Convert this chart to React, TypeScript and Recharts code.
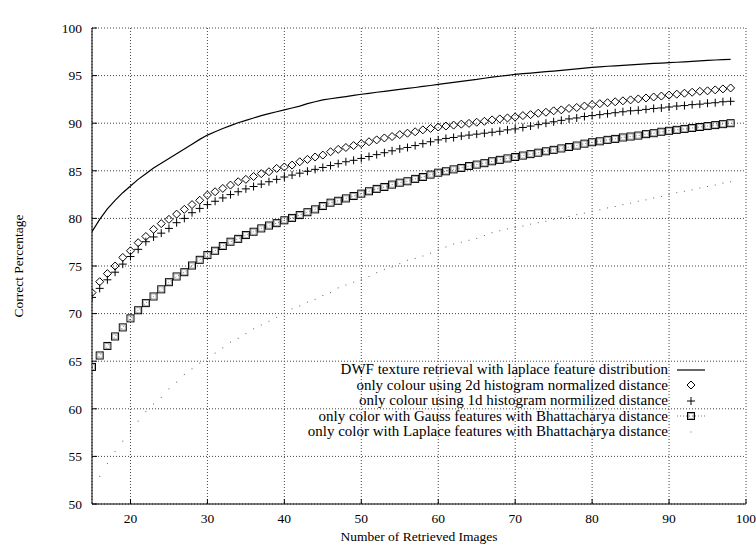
import { LineChart, Line, XAxis, YAxis, CartesianGrid, Legend } from "recharts";

const images = [
  15, 16, 17, 18, 19, 20, 21, 22, 23, 24, 25, 26, 27, 28, 29, 30, 31, 32, 33, 34,
  35, 36, 37, 38, 39, 40, 41, 42, 43, 44, 45, 46, 47, 48, 49, 50, 51, 52, 53, 54,
  55, 56, 57, 58, 59, 60, 61, 62, 63, 64, 65, 66, 67, 68, 69, 70, 71, 72, 73, 74,
  75, 76, 77, 78, 79, 80, 81, 82, 83, 84, 85, 86, 87, 88, 89, 90, 91, 92, 93, 94,
  95, 96, 97, 98,
];

const dwf = [
  78.6, 79.9, 81.0, 81.9, 82.7, 83.4, 84.1, 84.7, 85.3, 85.8,
  86.3, 86.8, 87.3, 87.8, 88.3, 88.75, 89.1, 89.45, 89.75, 90.05,
  90.3, 90.55, 90.8, 91.0, 91.2, 91.4, 91.6, 91.8, 92.05, 92.25,
  92.45, 92.57, 92.69, 92.8, 92.92, 93.04, 93.14, 93.25, 93.35, 93.45,
  93.55, 93.65, 93.75, 93.86, 93.96, 94.07, 94.18, 94.29, 94.4, 94.5,
  94.6, 94.72, 94.83, 94.93, 95.03, 95.12, 95.2, 95.27, 95.34, 95.41,
  95.48, 95.55, 95.62, 95.7, 95.78, 95.86, 95.92, 95.98, 96.03, 96.08,
  96.13, 96.18, 96.23, 96.28, 96.32, 96.36, 96.4, 96.45, 96.5, 96.55,
  96.6, 96.64, 96.68, 96.7,
];

const hist2d = [
  72.2, 73.35, 74.2, 75.0, 75.9, 76.6, 77.45, 78.1, 78.85, 79.45,
  79.9, 80.45, 80.95, 81.45, 81.9, 82.45, 82.8, 83.15, 83.5, 83.85,
  84.1, 84.4, 84.7, 84.9, 85.25, 85.4, 85.6, 85.95, 86.2, 86.45,
  86.65, 87.0, 87.25, 87.45, 87.65, 87.85, 88.05, 88.25, 88.45, 88.6,
  88.8, 88.95, 89.1, 89.3, 89.45, 89.6, 89.7, 89.8, 89.9, 89.98,
  90.1, 90.2, 90.35, 90.45, 90.55, 90.65, 90.8, 90.9, 91.05, 91.15,
  91.3, 91.4, 91.55, 91.65, 91.8, 91.95, 92.05, 92.15, 92.25, 92.35,
  92.45, 92.55, 92.65, 92.75, 92.85, 92.95, 93.05, 93.15, 93.25, 93.35,
  93.4, 93.5, 93.6, 93.7,
];

const hist1d = [
  71.7, 72.65, 73.55, 74.35, 75.2, 76.0, 76.75, 77.55, 78.05, 78.45,
  78.95, 79.55, 80.0, 80.6, 81.05, 81.45, 81.8, 82.15, 82.5, 82.8,
  83.1, 83.35, 83.6, 83.85, 84.1, 84.35, 84.55, 84.75, 84.95, 85.15,
  85.35, 85.55, 85.75, 85.95, 86.1, 86.3, 86.5, 86.7, 86.9, 87.1,
  87.3, 87.45, 87.65, 87.85, 88.05, 88.25, 88.4, 88.5, 88.65, 88.75,
  88.85, 88.95, 89.05, 89.15, 89.3, 89.4, 89.55, 89.7, 89.85, 90.0,
  90.15, 90.3, 90.45, 90.55, 90.7, 90.8, 90.9, 91.0, 91.1, 91.2,
  91.3, 91.35, 91.45, 91.55, 91.6, 91.7, 91.8, 91.85, 91.95, 92.0,
  92.1, 92.15, 92.25, 92.3,
];

const gauss = [
  64.4, 65.6, 66.6, 67.6, 68.55, 69.5, 70.35, 71.1, 71.8, 72.55,
  73.3, 73.9, 74.35, 75.05, 75.65, 76.15, 76.6, 77.1, 77.55, 77.85,
  78.25, 78.6, 78.95, 79.25, 79.5, 79.8, 80.05, 80.35, 80.65, 80.95,
  81.3, 81.65, 81.85, 82.1, 82.35, 82.6, 82.85, 83.1, 83.3, 83.55,
  83.75, 83.9, 84.15, 84.35, 84.6, 84.8, 84.95, 85.15, 85.3, 85.5,
  85.65, 85.8, 86.0, 86.15, 86.3, 86.45, 86.6, 86.75, 86.9, 87.05,
  87.2, 87.35, 87.5, 87.65, 87.85, 88.0, 88.1, 88.25, 88.35, 88.5,
  88.6, 88.7, 88.85, 88.95, 89.1, 89.2, 89.3, 89.4, 89.5, 89.6,
  89.7, 89.8, 89.9, 90.0,
];

const laplace = [
  51.6, 52.9, 54.25, 55.5, 56.6, 57.65, 58.7, 59.7, 60.5, 61.2,
  62.1, 62.8, 63.6, 64.2, 64.8, 65.35, 65.85, 66.4, 67.0, 67.4,
  67.9, 68.4, 68.8, 69.2, 69.6, 70.05, 70.5, 70.8, 71.2, 71.5,
  71.9, 72.2, 72.7, 73.0, 73.3, 73.6, 73.9, 74.3, 74.65, 74.9,
  75.25, 75.6, 75.8, 76.05, 76.35, 76.7, 77.0, 77.3, 77.5, 77.7,
  77.9, 78.2, 78.5, 78.7, 78.9, 79.05, 79.2, 79.4, 79.55, 79.7,
  79.9, 80.05, 80.2, 80.4, 80.55, 80.75, 80.9, 81.1, 81.25, 81.45,
  81.6, 81.8, 81.95, 82.15, 82.3, 82.5, 82.7, 82.85, 83.0, 83.2,
  83.35, 83.5, 83.7, 83.85,
];

const xTicks = [20, 30, 40, 50, 60, 70, 80, 90, 100];
const yTicks = [50, 55, 60, 65, 70, 75, 80, 85, 90, 95, 100];

const seriesNames = [
  "DWF texture retrieval with laplace feature distribution",
  "only colour using 2d histogram normalized distance",
  "only colour using 1d histogram normilized distance",
  "only color with Gauss features with Bhattacharya distance",
  "only color with Laplace features with Bhattacharya distance",
];

const rows = images.map((n, i) => ({
  n,
  dwf: dwf[i],
  hist2d: hist2d[i],
  hist1d: hist1d[i],
  gauss: gauss[i],
  laplace: laplace[i],
}));

const font = '"Liberation Serif", "Times New Roman", serif';

const Diamond = ({ cx, cy }: { cx: number; cy: number }) => (
  <path
    d={`M${cx},${cy - 4} L${cx + 4},${cy} L${cx},${cy + 4} L${cx - 4},${cy} Z`}
    fill="none"
    stroke="#000"
    strokeWidth={1}
  />
);

const Plus = ({ cx, cy }: { cx: number; cy: number }) => (
  <path
    d={`M${cx - 4},${cy} H${cx + 4} M${cx},${cy - 4} V${cy + 4}`}
    stroke="#000"
    strokeWidth={1}
  />
);

const Square = ({ cx, cy }: { cx: number; cy: number }) => (
  <g>
    <rect x={cx - 3.5} y={cy - 3.5} width={7} height={7} fill="none" stroke="#000" strokeWidth={1} />
    <rect x={cx - 2.5} y={cy - 2.5} width={5} height={5} fill="none" stroke="#999" strokeWidth={0.8} />
  </g>
);

const Dot = ({ cx, cy }: { cx: number; cy: number }) => (
  <rect x={cx - 0.5} y={cy - 0.5} width={1} height={1} fill="#666" />
);

const renderDiamond = (p: any) => <Diamond key={`dia-${p.index}`} cx={p.cx} cy={p.cy} />;
const renderPlus = (p: any) => <Plus key={`plus-${p.index}`} cx={p.cx} cy={p.cy} />;
const renderSquare = (p: any) => <Square key={`sq-${p.index}`} cx={p.cx} cy={p.cy} />;
const renderDot = (p: any) => <Dot key={`dot-${p.index}`} cx={p.cx} cy={p.cy} />;

const legendSamples = [
  <line x1={9} y1={8} x2={37} y2={8} stroke="#000" strokeWidth={1.2} />,
  <Diamond cx={23} cy={8} />,
  <Plus cx={23} cy={8} />,
  <g>
    <line x1={9} y1={8} x2={37} y2={8} stroke="#777" strokeDasharray="1 2" />
    <Square cx={23} cy={8} />
  </g>,
  <Dot cx={23} cy={8} />,
];

const GnuplotLegend = () => (
  <div style={{ fontFamily: font, fontSize: 15, color: "#000" }}>
    {seriesNames.map((name, i) => (
      <div key={name} style={{ display: "flex", alignItems: "center", height: 15.5 }}>
        <div style={{ width: 368, textAlign: "right", whiteSpace: "nowrap", lineHeight: "15.5px" }}>{name}</div>
        <svg width={46} height={16}>{legendSamples[i]}</svg>
      </div>
    ))}
  </div>
);

const BenchmarkChart = () => {
  return (
    <LineChart width={756} height={548} data={rows} margin={{ top: 28, right: 10, bottom: 0, left: 0 }}>
      <CartesianGrid stroke="#444" strokeDasharray="1 2" />
      <XAxis
        dataKey="n"
        type="number"
        domain={[15, 100]}
        ticks={xTicks}
        allowDataOverflow
        height={44}
        stroke="#000"
        tickSize={-5}
        tickMargin={14}
        tick={{ fill: "#000", fontSize: 13.5, fontFamily: font }}
        label={{
          value: "Number of Retrieved Images",
          position: "insideBottom",
          offset: 7,
          fill: "#000",
          fontSize: 13.5,
          fontFamily: font,
        }}
      />
      <XAxis
        xAxisId="top"
        orientation="top"
        type="number"
        domain={[15, 100]}
        ticks={xTicks}
        height={0}
        stroke="#000"
        tickSize={-5}
        tick={false}
        label={{
          value: "Benchmark for texture and colour alone as independent features",
          position: "top",
          offset: 11,
          fill: "#000",
          fontSize: 13.5,
          fontFamily: font,
        }}
      />
      <YAxis
        type="number"
        domain={[50, 100]}
        ticks={yTicks}
        width={92}
        stroke="#000"
        tickSize={-5}
        tickMargin={15}
        tick={{ fill: "#000", fontSize: 13.5, fontFamily: font }}
        label={{
          value: "Correct Percentage",
          angle: -90,
          position: "center",
          dx: -28,
          fill: "#000",
          fontSize: 13.5,
          fontFamily: font,
        }}
      />
      <YAxis
        yAxisId="right"
        orientation="right"
        type="number"
        domain={[50, 100]}
        ticks={yTicks}
        width={0}
        stroke="#000"
        tickSize={-5}
        tick={false}
      />
      <Legend
        layout="vertical"
        align="center"
        verticalAlign="middle"
        content={() => <GnuplotLegend />}
        wrapperStyle={{ left: 300, top: 362, width: 420 }}
      />
      <Line dataKey="laplace" stroke="none" dot={renderDot} activeDot={false} isAnimationActive={false} />
      <Line
        dataKey="gauss"
        stroke="#777"
        strokeDasharray="1 2"
        strokeWidth={1}
        dot={renderSquare}
        activeDot={false}
        isAnimationActive={false}
      />
      <Line dataKey="hist1d" stroke="none" dot={renderPlus} activeDot={false} isAnimationActive={false} />
      <Line dataKey="hist2d" stroke="none" dot={renderDiamond} activeDot={false} isAnimationActive={false} />
      <Line dataKey="dwf" stroke="#000" strokeWidth={1.2} dot={false} activeDot={false} isAnimationActive={false} />
    </LineChart>
  );
};

export default function App() {
  return (
    <div style={{ position: "absolute", left: 0, top: 0 }}>
      <BenchmarkChart />
    </div>
  );
}
